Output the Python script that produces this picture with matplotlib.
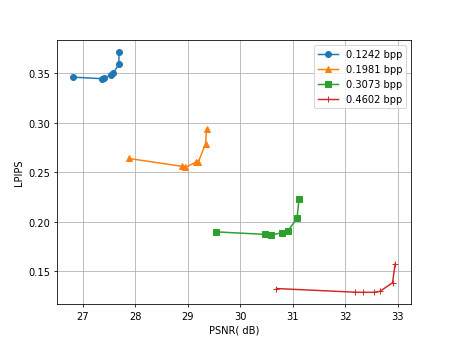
import matplotlib
matplotlib.use("Agg")
import matplotlib.pyplot as plt

labels = ["0.1242 bpp", "0.1981 bpp", "0.3073 bpp", "0.4602 bpp"]
markers = ["o", "^", "s", "+"]

psnr_0 = [26.82, 27.36, 27.40, 27.53, 27.58, 27.69, 27.69]
lpips_0 = [0.346, 0.3445, 0.345, 0.348, 0.350, 0.359, 0.371]

psnr_1 = [27.88, 28.90, 28.95, 29.15, 29.20, 29.34, 29.36]
lpips_1 = [0.264, 0.256, 0.255, 0.260, 0.260, 0.279, 0.294]

psnr_2 = [29.53, 30.48, 30.58, 30.79, 30.90, 31.08, 31.12]
lpips_2 = [0.190, 0.1874, 0.1867, 0.189, 0.1904, 0.2035, 0.223]

psnr_3 = [30.69, 32.19, 32.33, 32.54, 32.66, 32.90, 32.95]
lpips_3 = [0.1328, 0.1291, 0.129, 0.129, 0.130, 0.1386, 0.1578]

xs = [psnr_0, psnr_1, psnr_2, psnr_3]
ys = [lpips_0, lpips_1, lpips_2, lpips_3]

fig, ax = plt.subplots(figsize=(6.4, 4.8), dpi=71.4)
for x, y, m, lab in zip(xs, ys, markers, labels):
    ax.plot(x, y, marker=m, label=lab)
ax.set_xlabel("PSNR( dB)")
ax.set_ylabel("LPIPS")
ax.grid(True)
ax.legend(loc="upper right")
fig.savefig("out.png", dpi=71.4)
